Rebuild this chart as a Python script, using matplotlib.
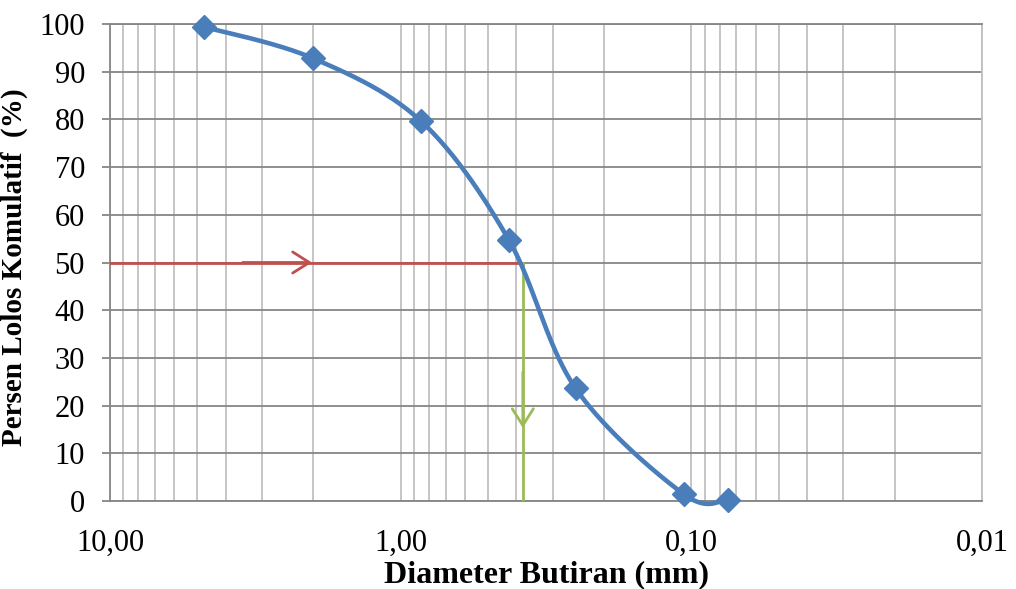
import numpy as np
import matplotlib
matplotlib.use("Agg")
import matplotlib.pyplot as plt
from matplotlib.ticker import FixedLocator, LogLocator, NullFormatter

# ---- data ----
diameter_mm = [4.75, 2.0, 0.85, 0.425, 0.25, 0.106, 0.075]
percent_passing = [99.4, 92.8, 79.6, 54.8, 23.6, 1.4, 0.3]
d50 = 0.38
y50 = 50
x_ticks = [10, 1, 0.1, 0.01]
x_ticklabels = ["10,00", "1,00", "0,10", "0,01"]
y_ticks = list(range(0, 101, 10))
red_arrow = (3.5, 2.02)     # x-range of arrow segment on the 50% line
green_arrow = (27, 15.3)    # y-range of arrow segment on the D50 line

plt.rcParams['font.family'] = ['Liberation Serif', 'DejaVu Serif']

fig = plt.figure(figsize=(10.16, 5.89), dpi=100)
ax = fig.add_axes([110/1016, 1-501/589, (982-110)/1016, (501-24)/589])
ax.set_xscale('log')
ax.set_xlim(10, 0.01)
ax.set_ylim(0, 100)

# Excel-like smoothed line (Bezier, tension 1/6) computed in display space
fig.canvas.draw()
pts = ax.transData.transform(np.column_stack([diameter_mm, percent_passing]))
P = np.vstack([pts[0], pts, pts[-1]])
curve = []
t = np.linspace(0, 1, 60)[:, None]
for i in range(1, len(P) - 2):
    p0, p1, p2, p3 = P[i-1], P[i], P[i+1], P[i+2]
    c1 = p1 + (p2 - p0) / 6
    c2 = p2 - (p3 - p1) / 6
    b = ((1-t)**3)*p1 + 3*((1-t)**2)*t*c1 + 3*(1-t)*t**2*c2 + t**3*p2
    curve.append(b)
curve = np.vstack(curve)
curve_data = ax.transData.inverted().transform(curve)

blue = '#4a7ebb'
ax.plot(curve_data[:, 0], curve_data[:, 1], color=blue, lw=3.3, zorder=4,
        solid_capstyle='round', clip_on=False)
ax.plot(diameter_mm, percent_passing, linestyle='none', marker='D', ms=12.5,
        color=blue, mec=blue, zorder=5, clip_on=False)

# D50 lines
red = '#c0504d'
green = '#9bbb59'
ax.plot([10, d50], [y50, y50], color=red, lw=2, zorder=3)
ax.annotate('', xy=(red_arrow[1], y50), xytext=(red_arrow[0], y50),
            arrowprops=dict(arrowstyle='->,head_length=0.6,head_width=0.38',
                            color=red, lw=2, mutation_scale=20,
                            shrinkA=0, shrinkB=0), zorder=3)
ax.plot([d50, d50], [y50, 0], color=green, lw=2, zorder=3)
ax.annotate('', xy=(d50, green_arrow[1]), xytext=(d50, green_arrow[0]),
            arrowprops=dict(arrowstyle='->,head_length=0.6,head_width=0.38',
                            color=green, lw=2, mutation_scale=20,
                            shrinkA=0, shrinkB=0), zorder=3)

# grid
ax.xaxis.set_major_locator(FixedLocator(x_ticks))
ax.xaxis.set_minor_locator(LogLocator(base=10, subs=np.arange(2, 10)))
ax.xaxis.set_minor_formatter(NullFormatter())
ax.set_xticklabels(x_ticklabels)
ax.set_yticks(y_ticks)
ax.grid(True, which='major', axis='y', color='#868686', lw=1.3, zorder=0)
ax.grid(True, which='both', axis='x', color='#c0c0c0', lw=1.3, zorder=0)
ax.set_axisbelow(True)

for s in ['left', 'bottom', 'top']:
    ax.spines[s].set_color('#868686')
    ax.spines[s].set_linewidth(1.3)
ax.spines['right'].set_color('#c0c0c0')
ax.spines['right'].set_linewidth(1.3)

ax.tick_params(axis='y', which='major', length=6, width=1.3, color='#868686',
               labelsize=22, pad=12)
ax.tick_params(axis='x', which='both', length=0, labelsize=22, pad=20)

ax.set_xlabel('Diameter Butiran (mm)', fontsize=23, fontweight='bold', labelpad=2)
ax.set_ylabel('Persen Lolos Komulatif  (%)', fontsize=21, fontweight='bold')
ax.yaxis.set_label_coords(28/1016, 1-267/589, transform=fig.transFigure)

fig.savefig('out.png', dpi=100)
